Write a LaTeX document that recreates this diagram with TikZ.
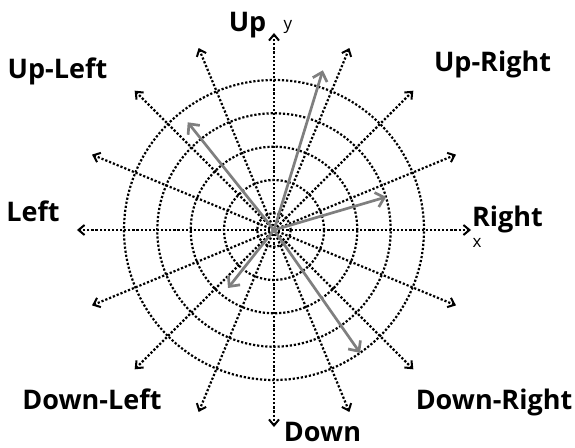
\documentclass[tikz,border=0pt]{standalone}
\usepackage{fontspec}
\setsansfont{Open Sans}
\usetikzlibrary{arrows.meta}
\definecolor{pfeilgrau}{HTML}{7f7f7f}

\begin{document}
\begin{tikzpicture}[x=1pt, y=1pt, font=\sffamily,
    raster/.style={line width=2.2pt, dash pattern=on 2.2pt off 1.9pt},
    richtung/.style={raster, -{Straight Barb[length=6pt, width=10pt, line width=2pt]}},
    vektor/.style={pfeilgrau, line width=2.7pt, -{Straight Barb[length=8pt, width=15pt]}},
    beschriftung/.style={font=\sffamily\bfseries\fontsize{27}{27}\selectfont, inner sep=0pt, anchor=base},
    achsname/.style={font=\sffamily\fontsize{17}{17}\selectfont, inner sep=0pt}]

    \useasboundingbox (-274,-217) rectangle (301,230);

    \coordinate (O) at (0,0);

    % Konzentrische Kreise (gepunktet)
    \foreach \r in {16.7, 50, 83.3, 116.7, 150}
        \draw[raster] (O) circle (\r);

    % 16 Richtungen im Abstand von 22,5 Grad
    \foreach \w [count=\i] in {0, 22.5, ..., 337.5} {
        \coordinate (r\i) at (\w:197);
        \draw[richtung] (O) -- (r\i);
    }

    % Beispielvektoren
    \coordinate (v1) at (73:167);
    \coordinate (v2) at (128.7:138);
    \coordinate (v3) at (16.4:117);
    \coordinate (v4) at (231.6:74);
    \coordinate (v5) at (305:150);
    \foreach \v in {v1, v2, v3, v4, v5}
        \draw[vektor] (O) -- (\v);

    % Achsen
    \node[achsname] (ax) at (203, -13) {x};
    \node[achsname] (ay) at (14, 203) {y};

    % Richtungsnamen
    \node[beschriftung] (up) at (-26.5, 198.5) {Up};
    \node[beschriftung] (upleft) at (-216.5, 151) {Up-Left};
    \node[beschriftung] (upright) at (218.5, 158) {Up-Right};
    \node[beschriftung] (left) at (-241, 9) {Left};
    \node[beschriftung] (right) at (233.5, 4) {Right};
    \node[beschriftung] (downleft) at (-182, -179) {Down-Left};
    \node[beschriftung] (downright) at (220, -179) {Down-Right};
    \node[beschriftung] (down) at (48.5, -211) {Down};

\end{tikzpicture}
\end{document}
